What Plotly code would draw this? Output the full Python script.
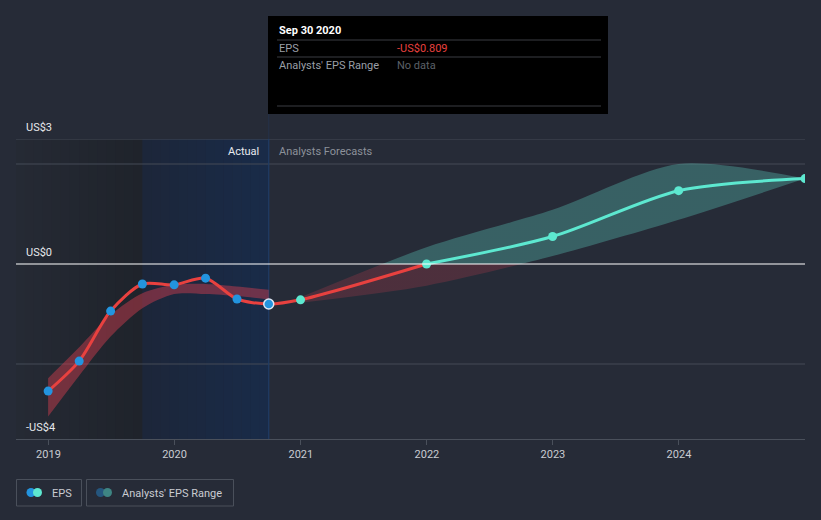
import plotly.graph_objects as go
from datetime import date, timedelta

# ---------------- data ----------------
hist_dates = ['2018-12-31', '2019-03-31', '2019-06-30', '2019-09-30',
              '2019-12-31', '2020-03-31', '2020-06-30', '2020-09-30']
hist_eps = [-3.05, -2.33, -1.13, -0.48, -0.50, -0.34, -0.84, -0.96]
hist_high = [-2.74, -2.00, -1.22, -0.70, -0.50, -0.48, -0.54, -0.62]
hist_low = [-3.66, -2.68, -1.74, -1.06, -0.72, -0.72, -0.77, -0.85]

fc_dates = ['2020-12-31', '2021-12-31', '2022-12-31', '2023-12-31', '2024-12-31']
fc_eps = [-0.86, 0.0, 0.66, 1.76, 2.05]
fc_high = [-0.80, 0.40, 1.30, 2.40, 2.05]
fc_low = [-0.93, -0.52, 0.19, 1.06, 2.05]

year_ticks = ['2019-01-01', '2020-01-01', '2021-01-01', '2022-01-01', '2023-01-01', '2024-01-01']
year_labels = ['2019', '2020', '2021', '2022', '2023', '2024']

y_labels = ['US$3', 'US$0', '-US$4']
y_label_vals = [3.0, 0.0, -4.2]

# ---------------- style ----------------
W, H = 821, 520
ML, MR, MT, MB = 16, 16, 139, 81
BG = '#262b37'
RED = '#e8413f'
BLUE = '#2394df'
CYAN = '#5de8d0'
GRID = '#454b57'
FONT = 'Roboto'

X0, X1 = '2018-09-29', '2024-12-31'
Y0, Y1 = -4.2, 3.0


def px(xp):
    return (xp - ML) / (W - ML - MR)


def py(yp):
    return (H - MB - yp) / (H - MT - MB)


fig = go.Figure()

# historical range band
fig.add_trace(go.Scatter(x=hist_dates, y=hist_low, mode='lines',
                         line=dict(width=0, shape='spline', smoothing=0.8),
                         hoverinfo='skip', showlegend=False))
fig.add_trace(go.Scatter(x=hist_dates, y=hist_high, mode='lines',
                         line=dict(width=0, shape='spline', smoothing=0.8),
                         fill='tonexty', fillcolor='rgba(215,62,80,0.45)',
                         hoverinfo='skip', showlegend=False))

# forecast range band (red below zero, teal above zero)
fig.add_trace(go.Scatter(x=fc_dates, y=fc_low, mode='lines',
                         line=dict(width=0, shape='spline', smoothing=0.8),
                         hoverinfo='skip', showlegend=False))
fig.add_trace(go.Scatter(x=fc_dates, y=fc_high, mode='lines',
                         line=dict(width=0, shape='spline', smoothing=0.8),
                         fill='tonexty',
                         fillgradient=dict(type='vertical', start=-1, stop=1,
                                           colorscale=[[0, 'rgba(215,62,80,0.22)'],
                                                       [0.5, 'rgba(215,62,80,0.22)'],
                                                       [0.5, 'rgba(98,222,205,0.30)'],
                                                       [1, 'rgba(98,222,205,0.30)']]),
                         hoverinfo='skip', showlegend=False))

# EPS line: red while negative, cyan when positive
fig.add_trace(go.Scatter(x=hist_dates + fc_dates[:2], y=hist_eps + fc_eps[:2], mode='lines',
                         line=dict(color=RED, width=3, shape='spline', smoothing=0.8),
                         hoverinfo='skip', showlegend=False))
fig.add_trace(go.Scatter(x=fc_dates[1:], y=fc_eps[1:], mode='lines',
                         line=dict(color=CYAN, width=3, shape='spline', smoothing=0.8),
                         hoverinfo='skip', showlegend=False))

# markers
fig.add_trace(go.Scatter(x=hist_dates[:-1], y=hist_eps[:-1], mode='markers',
                         marker=dict(color=BLUE, size=9), hoverinfo='skip', showlegend=False))
fig.add_trace(go.Scatter(x=hist_dates[-1:], y=hist_eps[-1:], mode='markers',
                         marker=dict(color=BLUE, size=10, line=dict(color='#dfe8f5', width=1.5)),
                         hoverinfo='skip', showlegend=False))
fig.add_trace(go.Scatter(x=fc_dates, y=fc_eps, mode='markers',
                         marker=dict(color=CYAN, size=9), hoverinfo='skip', showlegend=False))

shapes = []


# background gradient regions
def strips(d0, d1, c0, c1, n=14):
    a = date.fromisoformat(d0)
    b = date.fromisoformat(d1)
    span = (b - a).days
    out = []
    for i in range(n):
        s = a + timedelta(days=span * i / n)
        e = a + timedelta(days=span * (i + 1) / n + 1)
        t = i / (n - 1)
        col = 'rgb(%d,%d,%d)' % tuple(round(c0[k] + (c1[k] - c0[k]) * t) for k in range(3))
        out.append(dict(type='rect', xref='x', yref='paper', x0=s.isoformat(), x1=e.isoformat(),
                        y0=0, y1=1, fillcolor=col, line=dict(width=0), layer='below'))
    return out


shapes += strips(X0, '2019-09-30', (37, 42, 52), (31, 35, 43))
shapes += strips('2019-09-30', '2020-09-30', (28, 38, 58), (25, 43, 72))

# grid lines
for gv in [3.0, 2.4, -2.4]:
    shapes.append(dict(type='line', xref='paper', yref='y', x0=0, x1=1, y0=gv, y1=gv,
                       line=dict(color=GRID, width=1), layer='below'))
# zero line
shapes.append(dict(type='line', xref='paper', yref='y', x0=0, x1=1, y0=0, y1=0,
                   line=dict(color='#ffffff', width=1.2), layer='above'))
# "now" vertical line
shapes.append(dict(type='line', xref='x', yref='paper', x0='2020-09-30', x1='2020-09-30',
                   y0=0, y1=1, line=dict(color='#1f3d66', width=1.2), layer='below'))
shapes.append(dict(type='line', xref='x', yref='paper', x0='2020-09-30', x1='2020-09-30',
                   y0=1, y1=py(114), line=dict(color='#25324a', width=1), layer='below'))

# tooltip box
shapes.append(dict(type='rect', xref='paper', yref='paper', x0=px(268), x1=px(608),
                   y0=py(114), y1=py(16), fillcolor='#000000', line=dict(width=0)))
for yl in [40, 57, 106]:
    shapes.append(dict(type='line', xref='paper', yref='paper', x0=px(277), x1=px(601),
                       y0=py(yl), y1=py(yl), line=dict(color='#3a3d42', width=1)))

# legend boxes
for a, b in [(16.5, 81.5), (86.5, 233.5)]:
    shapes.append(dict(type='rect', xref='paper', yref='paper', x0=px(a), x1=px(b),
                       y0=py(506), y1=py(479.5), line=dict(color='#4a505b', width=1),
                       fillcolor='rgba(0,0,0,0)'))
for cx, col in [(31, BLUE), (37.5, CYAN), (100.5, '#25567e'), (107.5, '#3e8583')]:
    shapes.append(dict(type='circle', xref='paper', yref='paper', x0=px(cx - 4.5), x1=px(cx + 4.5),
                       y0=py(497), y1=py(488), fillcolor=col, line=dict(width=0)))

annotations = []


def txt(x, y, s, color, size=11, anchor='left', bold=False):
    annotations.append(dict(xref='paper', yref='paper', x=px(x), y=py(y), text=('<b>%s</b>' % s) if bold else s,
                            showarrow=False, xanchor=anchor, yanchor='middle',
                            font=dict(family=FONT, size=size, color=color)))


for lab, v in zip(y_labels, y_label_vals):
    annotations.append(dict(xref='paper', yref='y', x=px(24), y=v, yshift=12, text=lab, showarrow=False,
                            xanchor='left', yanchor='middle',
                            font=dict(family=FONT, size=11, color='#e6e8ec')))

txt(261, 151, 'Actual', '#e8eaee', anchor='right')
txt(277, 151, 'Analysts Forecasts', '#8c919a')

txt(277, 31, 'Sep 30 2020', '#ffffff', size=11, bold=True)
txt(277, 48, 'EPS', '#9a9fa7')
txt(395, 48, '-US$0.809', '#e8403f')
txt(277, 65.5, "Analysts' EPS Range", '#9a9fa7')
txt(395, 65.5, 'No data', '#5c6068')

txt(50, 493, 'EPS', '#c9ccd2')
txt(120, 493, "Analysts' EPS Range", '#c9ccd2')

fig.update_layout(
    width=W, height=H,
    margin=dict(l=ML, r=MR, t=MT, b=MB),
    paper_bgcolor=BG, plot_bgcolor=BG,
    showlegend=False,
    shapes=shapes, annotations=annotations,
    font=dict(family=FONT),
    xaxis=dict(type='date', range=[X0, X1], tickvals=year_ticks, ticktext=year_labels,
               showgrid=False, zeroline=False, showline=True, linecolor='#4a505b', linewidth=1,
               ticks='outside', ticklen=5, tickcolor='#4a505b',
               tickfont=dict(family=FONT, size=11, color='#c9ccd2'), fixedrange=True),
    yaxis=dict(range=[Y0, Y1], showgrid=False, zeroline=False, showticklabels=False,
               fixedrange=True),
)

fig.write_html('out.html', config={'displayModeBar': False},
               post_script="document.body.style.margin='0';document.body.style.overflow='hidden';"
                           "document.body.style.background='" + BG + "';")
